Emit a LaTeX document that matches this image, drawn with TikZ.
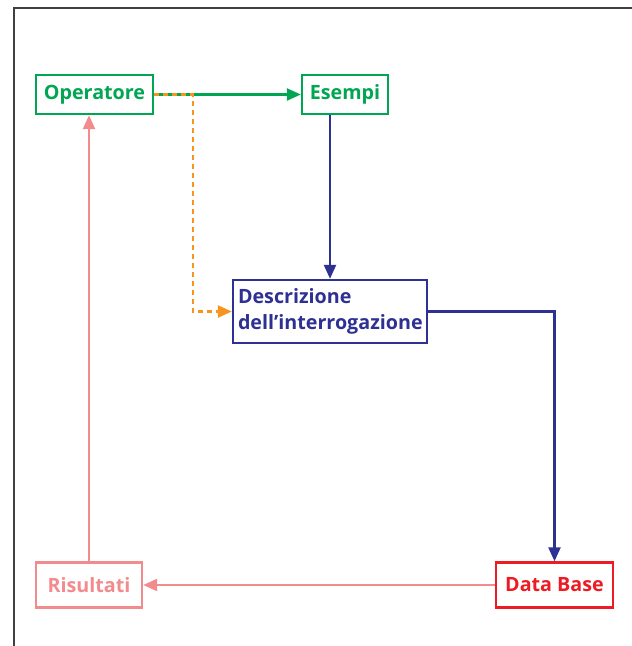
\documentclass[tikz,border=0pt]{standalone}
\usepackage{fontspec}
\setmainfont{Open Sans}
\usetikzlibrary{positioning, arrows.meta}

\definecolor{opgreen}{RGB}{0,166,81}
\definecolor{qnavy}{RGB}{46,49,146}
\definecolor{exorange}{RGB}{247,148,30}
\definecolor{respink}{RGB}{242,139,142}
\definecolor{dbred}{RGB}{237,28,36}

\begin{document}
\begin{tikzpicture}[
    x=1pt, y=-1pt,
    box/.style={rectangle, draw, line width=2.4pt, fill=white,
                minimum height=39pt, inner sep=5pt,
                font=\fontsize{19.7}{26.5}\selectfont\bfseries},
    arrow/.style={-{Triangle[length=14pt, width=12pt]}, line width=2.4pt},
    frame/.style={draw=black!75, line width=1.3pt}
  ]

    \useasboundingbox (0, 0) rectangle (632, 646);

    % outer frame (only top and left edge visible)
    \draw[frame] (14, 646) -- (14, 8) -- (632, 8);

    % Operator and examples (top row)
    \node[box, draw=opgreen, text=opgreen, minimum width=117pt] (operatore) at (94.5, 94.5) {Operatore};
    \node[box, draw=opgreen, text=opgreen, minimum width=86pt] (esempi) at (345, 94.5) {Esempi};

    % Query description (centre)
    \node[box, draw=qnavy, text=qnavy, minimum width=194pt, minimum height=63pt,
          text width=184pt, align=left] (descrizione) at (330, 311.5) {Descrizione\\dell'interrogazione};

    % Results and database (bottom row)
    \node[box, draw=respink, text=respink, minimum width=106pt, minimum height=45pt] (risultati) at (89, 585) {Risultati};
    \node[box, draw=dbred, text=dbred, minimum width=117pt, minimum height=45pt] (database) at (554.5, 585) {Data Base};

    % Operator -> examples
    \draw[arrow, opgreen] (operatore.east) -- (esempi.west);

    % Operator -> description (dashed)
    \draw[arrow, exorange, dashed, dash pattern=on 5pt off 4pt]
      (operatore.east) -- ++(39, 0) |- (descrizione.west);

    % Examples -> description -> database
    \draw[arrow, qnavy] (esempi.south -| descrizione.north) -- (descrizione.north);
    \draw[arrow, qnavy] (descrizione.east) -| (database.north);

    % Database -> results -> operator
    \draw[arrow, respink] (database.west) -- (risultati.east);
    \draw[arrow, respink] (risultati.north) -- (risultati.north |- operatore.south);

  \end{tikzpicture}
\end{document}
